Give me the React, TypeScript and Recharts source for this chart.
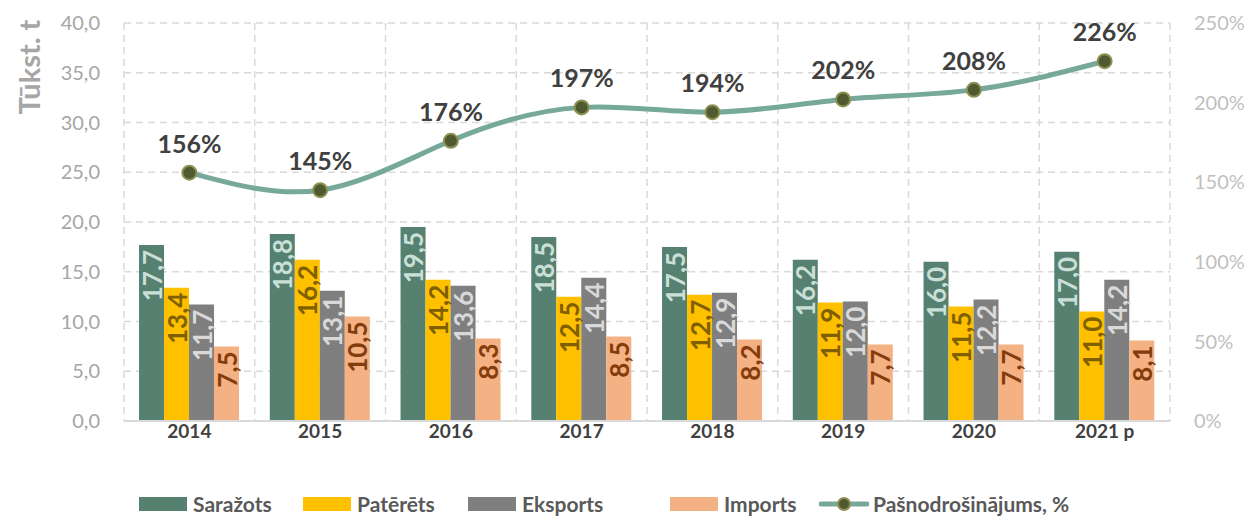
import {
  ComposedChart,
  Bar,
  Line,
  XAxis,
  YAxis,
  CartesianGrid,
  LabelList,
  Legend,
} from 'recharts';

const years = ['2014', '2015', '2016', '2017', '2018', '2019', '2020', '2021 p'];
const sarazots = [17.7, 18.8, 19.5, 18.5, 17.5, 16.2, 16.0, 17.0];
const pateretes = [13.4, 16.2, 14.2, 12.5, 12.7, 11.9, 11.5, 11.0];
const eksports = [11.7, 13.1, 13.6, 14.4, 12.9, 12.0, 12.2, 14.2];
const imports = [7.5, 10.5, 8.3, 8.5, 8.2, 7.7, 7.7, 8.1];
const pasnodrosinajums = [156, 145, 176, 197, 194, 202, 208, 226];

const leftTicks = [0, 5, 10, 15, 20, 25, 30, 35, 40];
const rightTicks = [0, 50, 100, 150, 200, 250];

const data = years.map((year, i) => ({
  year,
  sarazots: sarazots[i],
  pateretes: pateretes[i],
  eksports: eksports[i],
  imports: imports[i],
  pct: pasnodrosinajums[i],
}));

const FONT = 'Lato, "Open Sans", sans-serif';
const fmtNum = (v: number) => v.toFixed(1).replace('.', ',');

const series = [
  { key: 'sarazots', name: 'Saražots', color: '#56806F', label: '#C9DFD7' },
  { key: 'pateretes', name: 'Patērēts', color: '#FFC000', label: '#7F6000' },
  { key: 'eksports', name: 'Eksports', color: '#7F7F7F', label: '#D9D9D9' },
  { key: 'imports', name: 'Imports', color: '#F4B183', label: '#843C0C' },
];

function rotatedLabel(color: string) {
  return (props: any) => {
    const { x, y, width, value } = props;
    const cx = Number(x) + Number(width) / 2;
    const cy = Number(y) + 5;
    return (
      <text
        x={cx}
        y={cy}
        transform={`rotate(-90, ${cx}, ${cy})`}
        textAnchor="end"
        dominantBaseline="central"
        fill={color}
        fontFamily={FONT}
        fontWeight={700}
        fontSize={26}
      >
        {fmtNum(Number(value))}
      </text>
    );
  };
}

// left edge of each legend item (box start)
const legendLefts = [139, 303, 468, 670, 819];

const itemStyle = {
  position: 'absolute' as const,
  top: 0,
  display: 'flex',
  alignItems: 'center',
  height: 26,
};
const textStyle = { marginLeft: 6, fontSize: 21, fontWeight: 700, color: '#595959', lineHeight: '26px' };

function ChartLegend() {
  return (
    <div style={{ position: 'relative', height: 26, width: 1249, fontFamily: FONT }}>
      {series.map((s, i) => (
        <div key={s.key} style={{ ...itemStyle, left: legendLefts[i] }}>
          <span style={{ display: 'inline-block', width: 48, height: 14, background: s.color }} />
          <span style={textStyle}>{s.name}</span>
        </div>
      ))}
      <div style={{ ...itemStyle, left: legendLefts[4] }}>
        <svg width={50} height={20}>
          <line x1={2} y1={10} x2={48} y2={10} stroke="#77A99B" strokeWidth={5} strokeLinecap="round" />
          <circle cx={25} cy={10} r={6} fill="#4F5A30" stroke="#8C9152" strokeWidth={2} />
        </svg>
        <span style={{ ...textStyle, marginLeft: 4 }}>Pašnodrošinājums, %</span>
      </div>
    </div>
  );
}

export default function App() {
  return (
    <div style={{ position: 'absolute', left: 0, top: 0, width: 1249, height: 517, background: '#fff' }}>
      <div
        style={{
          position: 'absolute',
          left: 28,
          top: 67,
          transform: 'translate(-50%, -50%) rotate(-90deg)',
          fontFamily: FONT,
          fontWeight: 700,
          fontSize: 29,
          color: '#A6A6A6',
          whiteSpace: 'nowrap',
        }}
      >
        Tūkst. t
      </div>
      <ComposedChart
        width={1249}
        height={517}
        data={data}
        margin={{ top: 23, right: 0, left: 0, bottom: 0 }}
        barCategoryGap="11.5%"
        barGap={0}
      >
        <CartesianGrid
          yAxisId="left"
          stroke="#D9D9D9"
          strokeWidth={1.5}
          strokeDasharray="7 5"
          verticalCoordinatesGenerator={({ offset }: any) =>
            years.map((_, i) => offset.left + (i * offset.width) / years.length).concat(offset.left + offset.width)
          }
        />
        <XAxis
          dataKey="year"
          height={70}
          tickSize={0}
          tickMargin={4}
          axisLine={{ stroke: '#D9D9D9', strokeWidth: 2 }}
          tick={{ fill: '#404040', fontSize: 19, fontWeight: 700, fontFamily: FONT }}
        />
        <YAxis
          yAxisId="left"
          width={124}
          domain={[0, 40]}
          ticks={leftTicks}
          tickFormatter={fmtNum}
          axisLine={false}
          tickSize={0}
          tickMargin={24}
          tick={{ fill: '#A6A6A6', fontSize: 20, fontFamily: FONT }}
        />
        <YAxis
          yAxisId="right"
          orientation="right"
          width={79}
          domain={[0, 250]}
          ticks={rightTicks}
          tickFormatter={(v: number) => `${v}%`}
          axisLine={false}
          tickSize={0}
          tickMargin={24}
          tick={{ fill: '#BFBFBF', fontSize: 20, fontFamily: FONT, textAnchor: 'start' }}
        />
        <Legend verticalAlign="bottom" height={26} content={() => <ChartLegend />} />
        {series.map(s => (
          <Bar key={s.key} yAxisId="left" dataKey={s.key} name={s.name} fill={s.color} isAnimationActive={false}>
            <LabelList dataKey={s.key} content={rotatedLabel(s.label)} />
          </Bar>
        ))}
        <Line
          yAxisId="right"
          type="natural"
          dataKey="pct"
          name="Pašnodrošinājums, %"
          stroke="#77A99B"
          strokeWidth={5}
          dot={{ r: 7, fill: '#4F5A30', stroke: '#8C9152', strokeWidth: 2 }}
          activeDot={false}
          isAnimationActive={false}
        >
          <LabelList
            dataKey="pct"
            position="top"
            offset={20}
            formatter={(v: any) => `${v}%`}
            fill="#404040"
            fontSize={25}
            fontWeight={700}
            fontFamily={FONT}
          />
        </Line>
      </ComposedChart>
    </div>
  );
}
